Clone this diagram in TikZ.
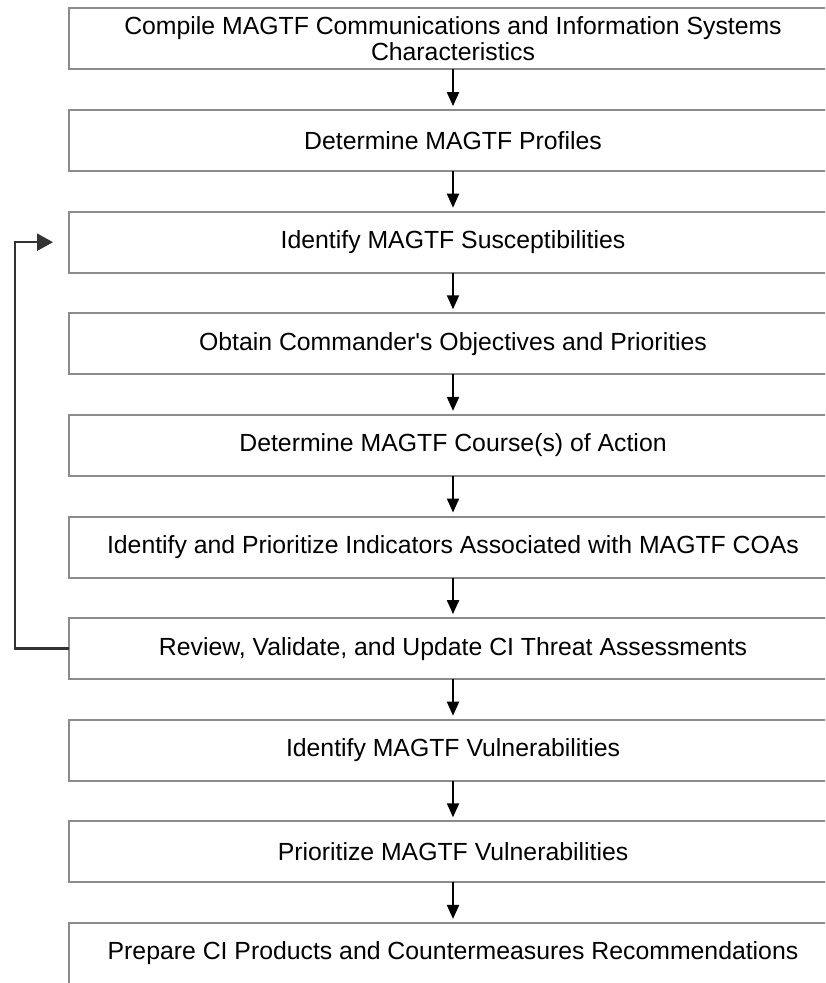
\documentclass[tikz,border=0pt]{standalone}
\usepackage{fontspec}
\setmainfont{Liberation Sans}
\usetikzlibrary{positioning,arrows.meta}

\begin{document}
\begin{tikzpicture}
	[x=0.5pt, y=-0.5pt,
	 stepbox/.style={rectangle, draw=black!45, line width=1pt, minimum width=384pt,
		minimum height=30.5pt, inner sep=0pt, outer sep=0pt, align=center,
		font=\fontsize{12.4}{13}\selectfont},
	 flow/.style={draw=black, line width=1pt, -{Triangle[length=7pt,width=6pt]}, shorten >=2pt},
	 loop/.style={draw=black!80, line width=1.3pt, -{Triangle[length=8pt,width=8.5pt]}},
	 node distance=20.3pt]
	\useasboundingbox (0,0) rectangle (825,983);
	\clip (0,0) rectangle (825,983);
	\node[stepbox] (compile) at (453,39) {Compile MAGTF Communications and Information Systems\\Characteristics};
	\node[stepbox, below=of compile] (profiles) {Determine MAGTF Profiles};
	\node[stepbox, below=of profiles] (suscept) {Identify MAGTF Susceptibilities};
	\node[stepbox, below=of suscept] (objectives) {Obtain Commander\textquotesingle s Objectives and Priorities};
	\node[stepbox, below=of objectives] (coas) {Determine MAGTF Course(s) of Action};
	\node[stepbox, below=of coas] (indicators) {Identify and Prioritize Indicators Associated with MAGTF COAs};
	\node[stepbox, below=of indicators] (review) {Review, Validate, and Update CI Threat Assessments};
	\node[stepbox, below=of review] (vulner) {Identify MAGTF Vulnerabilities};
	\node[stepbox, below=of vulner] (prioritize) {Prioritize MAGTF Vulnerabilities};
	\node[stepbox, below=of prioritize] (products) {Prepare CI Products and Countermeasures Recommendations};

	% straight down
	\draw[flow] (compile) -- (profiles);
	\draw[flow] (profiles) -- (suscept);
	\draw[flow] (suscept) -- (objectives);
	\draw[flow] (objectives) -- (coas);
	\draw[flow] (coas) -- (indicators);
	\draw[flow] (indicators) -- (review);
	\draw[flow] (review) -- (vulner);
	\draw[flow] (vulner) -- (prioritize);
	\draw[flow] (prioritize) -- (products);

	% back to the susceptibilities
	\coordinate (back) at ([xshift=-27pt]review.west);
	\draw[loop] (review.west) -- (back) |- ([xshift=-8pt]suscept.west);
\end{tikzpicture}
\end{document}
